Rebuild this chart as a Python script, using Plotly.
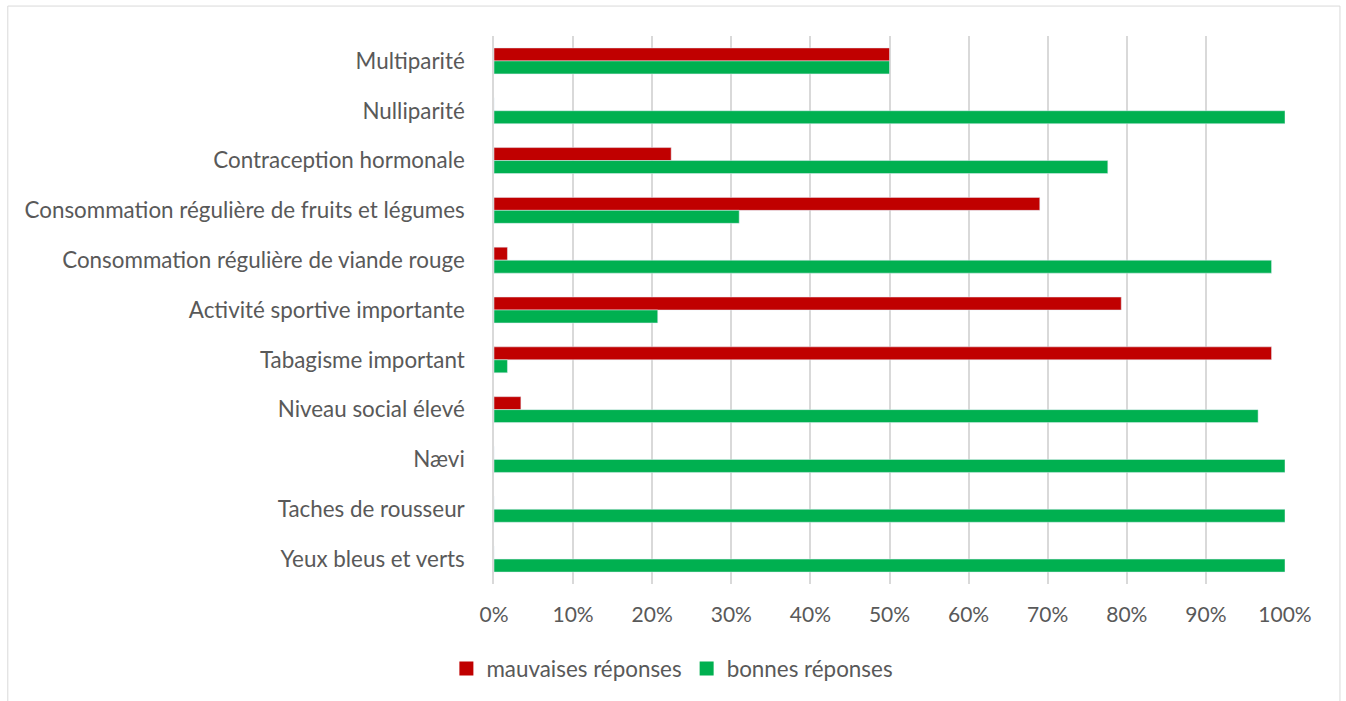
import plotly.graph_objects as go

# Risk factors, listed top to bottom
facteurs = [
    "Multiparité",
    "Nulliparité",
    "Contraception hormonale",
    "Consommation régulière de fruits et légumes",
    "Consommation régulière de viande rouge",
    "Activité sportive importante",
    "Tabagisme important",
    "Niveau social élevé",
    "Nævi",
    "Taches de rousseur",
    "Yeux bleus et verts",
]

# Share of answers (%)
mauvaises = [50.0, 0.0, 22.4, 69.0, 1.7, 79.3, 98.3, 3.4, 0.0, 0.0, 0.0]
bonnes = [50.0, 100.0, 77.6, 31.0, 98.3, 20.7, 1.7, 96.6, 100.0, 100.0, 100.0]

x_ticks = list(range(0, 101, 10))

FONT = "Lato"
GREY_TEXT = "#595959"
GRID = "#d9d9d9"
RED = "#C00000"
GREEN = "#00B050"

fig = go.Figure()
fig.add_trace(go.Bar(
    y=facteurs, x=mauvaises, orientation="h",
    name="mauvaises réponses", marker=dict(color=RED),
    legendgroup="m", showlegend=False,
))
fig.add_trace(go.Bar(
    y=facteurs, x=bonnes, orientation="h",
    name="bonnes réponses", marker=dict(color=GREEN),
    legendgroup="b", showlegend=False,
))
# Square legend keys
for name, color, grp in [("mauvaises réponses", RED, "m"), ("bonnes réponses", GREEN, "b")]:
    fig.add_trace(go.Scatter(
        x=[None], y=[None], mode="markers", name=name, legendgroup=grp,
        marker=dict(symbol="square", size=14, color=color),
        showlegend=True,
    ))

L, R, T, B = 493.5, 61, 36, 116
W, H = 1346, 701
pw = W - L - R
ph = H - T - B

def px_to_paper_x(px):
    return (px - L) / pw

def px_to_paper_y(py):
    return (H - B - py) / ph

fig.update_layout(
    width=W, height=H,
    margin=dict(l=L, r=R, t=T, b=B, pad=0),
    paper_bgcolor="white", plot_bgcolor="white",
    barmode="group", bargap=0.479, bargroupgap=0,
    font=dict(family=FONT, size=22.4, color=GREY_TEXT),
    showlegend=True,
    legend=dict(
        orientation="h",
        x=px_to_paper_x(672), xanchor="center",
        y=px_to_paper_y(669), yanchor="middle",
        font=dict(family=FONT, size=22.4, color=GREY_TEXT),
        itemwidth=30,
        traceorder="normal",
    ),
    xaxis=dict(
        range=[0, 100], tickvals=x_ticks,
        ticktext=[f"{v}%" for v in x_ticks],
        showgrid=True, gridcolor=GRID, gridwidth=1.5,
        zeroline=False, showline=False, ticks="",
        ticklabelstandoff=16,
        tickfont=dict(family=FONT, size=21, color=GREY_TEXT),
        fixedrange=True,
    ),
    yaxis=dict(
        categoryorder="array", categoryarray=facteurs,
        autorange="reversed",
        showgrid=False, zeroline=False,
        showline=True, linecolor=GRID, linewidth=1.5,
        ticks="", ticklabelstandoff=23,
        tickfont=dict(family=FONT, size=22.4, color=GREY_TEXT),
        fixedrange=True,
    ),
    shapes=[dict(
        type="rect", xref="paper", yref="paper",
        x0=px_to_paper_x(7), x1=px_to_paper_x(1340),
        y0=px_to_paper_y(710), y1=px_to_paper_y(6),
        line=dict(color=GRID, width=1), fillcolor="rgba(0,0,0,0)",
        layer="below",
    )],
)

fig.write_html("out.html", config={"displayModeBar": False})
